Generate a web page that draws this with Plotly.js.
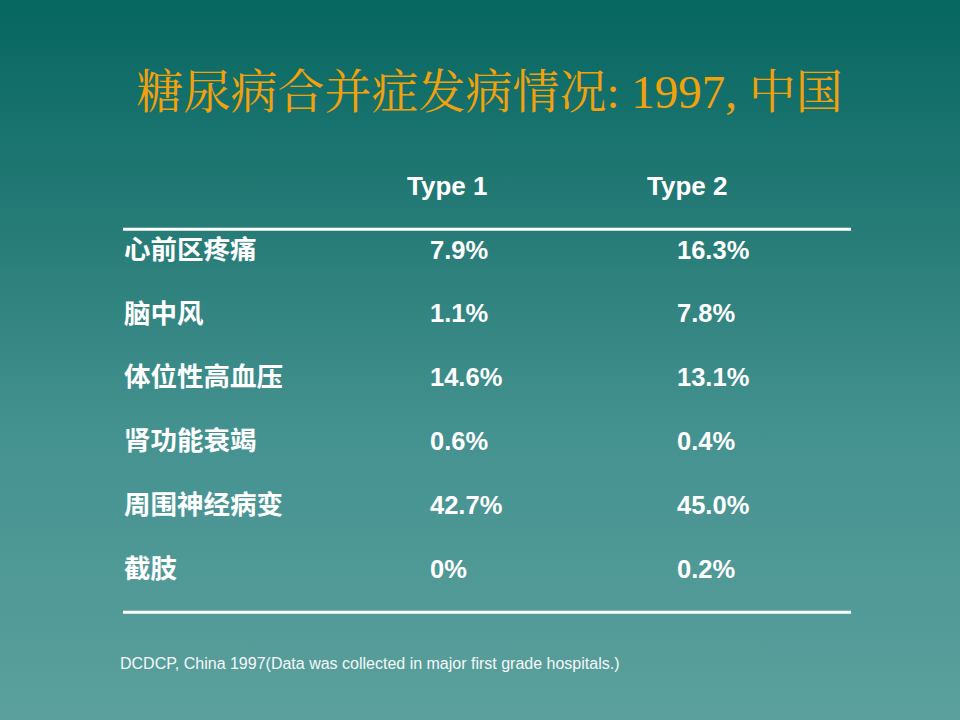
<!DOCTYPE html>
<html>
<head>
<meta charset="utf-8">
<script src="https://cdn.plot.ly/plotly-3.0.1.min.js"></script>
<style>
html, body { margin: 0; padding: 0; width: 960px; height: 720px; overflow: hidden; }
body { background: linear-gradient(to bottom, #066660 0%, #2a7e7a 35%, #449290 60%, #5ba09d 100%); }
#chart { width: 960px; height: 720px; }
</style>
</head>
<body>
<div id="chart"></div>
<script>
// ---- data ----
const chartTitle = "糖尿病合并症发病情况: 1997, 中国";
const columnHeaders = ["Type 1", "Type 2"];
const complications = ["心前区疼痛", "脑中风", "体位性高血压", "肾功能衰竭", "周围神经病变", "截肢"];
const type1Values = ["7.9%", "1.1%", "14.6%", "0.6%", "42.7%", "0%"];
const type2Values = ["16.3%", "7.8%", "13.1%", "0.4%", "45.0%", "0.2%"];
const sourceNote = "DCDCP, China 1997(Data was collected in major first grade hospitals.)";

// ---- layout constants (styling) ----
const labelX = 124, headerX = [407, 647], valueX = [430, 677];
const lineX0 = 123, lineX1 = 851;
const textFont = "Liberation Sans, Arial, Noto Sans CJK SC, sans-serif";
const rowIdx = complications.map((_, i) => i + 1);

const traces = [
  {
    type: "scatter", mode: "text", x: complications.map(() => labelX), y: rowIdx,
    text: complications, textposition: "middle right",
    textfont: { family: "Noto Sans CJK SC, sans-serif", size: 26.5, color: "#ffffff", weight: "bold" },
    hoverinfo: "skip", showlegend: false
  },
  {
    type: "scatter", mode: "text", x: headerX, y: columnHeaders.map(() => 0),
    text: columnHeaders, textposition: "middle right",
    textfont: { family: textFont, size: 26, color: "#ffffff", weight: "bold" },
    hoverinfo: "skip", showlegend: false
  },
  {
    type: "scatter", mode: "text", x: type1Values.map(() => valueX[0]), y: rowIdx,
    text: type1Values, textposition: "middle right",
    textfont: { family: textFont, size: 25.5, color: "#ffffff", weight: "bold" },
    hoverinfo: "skip", showlegend: false
  },
  {
    type: "scatter", mode: "text", x: type2Values.map(() => valueX[1]), y: rowIdx,
    text: type2Values, textposition: "middle right",
    textfont: { family: textFont, size: 25.5, color: "#ffffff", weight: "bold" },
    hoverinfo: "skip", showlegend: false
  }
];

const layout = {
  width: 960, height: 720,
  margin: { l: 0, r: 0, t: 0, b: 0 },
  paper_bgcolor: "rgba(0,0,0,0)", plot_bgcolor: "rgba(0,0,0,0)",
  title: {
    text: chartTitle, x: 0.51, xanchor: "center", y: 0.873, yanchor: "middle",
    xref: "paper", yref: "paper",
    font: { family: "Liberation Serif, Noto Serif CJK SC, Noto Sans CJK SC, serif", size: 47, color: "#f2a10c" }
  },
  xaxis: { range: [0, 960], visible: false, fixedrange: true },
  yaxis: { range: [8.33, -2.95], visible: false, fixedrange: true },
  shapes: [
    { type: "line", xref: "x", yref: "y", x0: lineX0, x1: lineX1, y0: 0.64, y1: 0.64, line: { color: "#ffffff", width: 3 } },
    { type: "line", xref: "x", yref: "y", x0: lineX0, x1: lineX1, y0: 6.64, y1: 6.64, line: { color: "#ffffff", width: 3 } }
  ],
  annotations: [
    { text: sourceNote, xref: "paper", yref: "paper", x: 118 / 960, y: 1 - 663 / 720,
      xanchor: "left", yanchor: "middle", showarrow: false,
      font: { family: "Liberation Sans, Arial, sans-serif", size: 16, color: "#f4f8f8" } }
  ]
};

Plotly.newPlot("chart", traces, layout, { staticPlot: true, displayModeBar: false });
</script>
</body>
</html>
